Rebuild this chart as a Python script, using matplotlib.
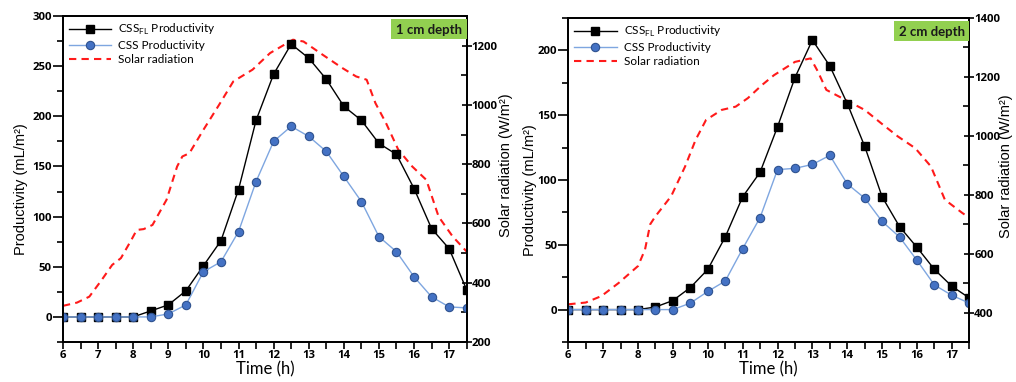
import numpy as np
import matplotlib
matplotlib.use("Agg")
import matplotlib.pyplot as plt
from matplotlib.patches import Rectangle
from matplotlib.ticker import MultipleLocator

plt.rcParams['font.family'] = ['Lato', 'DejaVu Sans']

# sampling times (h)
hours = [6, 6.5, 7, 7.5, 8, 8.5, 9, 9.5, 10, 10.5, 11, 11.5,
         12, 12.5, 13, 13.5, 14, 14.5, 15, 15.5, 16, 16.5, 17, 17.5]

# 1 cm depth: productivity (mL/m2)
fl_1cm = [0, 0, 0, 0, 0, 6, 12, 26, 51, 76, 127, 196,
          242, 272, 258, 237, 210, 196, 173, 162, 128, 88, 68, 27]
css_1cm = [0, 0, 0, 0, 0, 0, 3, 12, 45, 55, 85, 135,
           175, 190, 180, 165, 140, 115, 80, 65, 40, 20, 10, 9]
# 1 cm depth: solar radiation (W/m2)
sun_t_1cm = [6.0, 6.4, 6.75, 7.1, 7.4, 7.65, 7.95, 8.1, 8.3, 8.55, 8.95, 9.25,
             9.4, 9.6, 10.0, 10.45, 10.85, 11.4, 11.9, 12.55, 12.85, 13.4, 13.95,
             14.35, 14.65, 14.9, 15.2, 15.55, 15.95, 16.35, 16.7, 17.1, 17.5]
sun_1cm = [322, 333, 353, 409, 460, 483, 545, 578, 581, 595, 680, 792,
           826, 837, 916, 1001, 1079, 1119, 1175, 1220, 1214, 1169, 1125,
           1096, 1085, 1006, 939, 849, 792, 747, 623, 556, 505]

# 2 cm depth: productivity (mL/m2)
fl_2cm = [0, 0, 0, 0, 0, 2, 7, 17, 31, 56, 87, 106,
          141, 179, 208, 188, 159, 126, 87, 64, 48, 31, 18, 9]
css_2cm = [0, 0, 0, 0, 0, 0, 0, 5, 14, 22, 47, 71,
           108, 109, 112, 119, 97, 86, 68, 56, 38, 19, 11, 5]
# 2 cm depth: solar radiation (W/m2)
sun_t_2cm = [6.0, 6.5, 6.95, 7.45, 8.0, 8.2, 8.35, 8.5, 8.95, 9.35, 9.65, 9.95,
             10.4, 10.8, 11.15, 11.55, 11.9, 12.5, 12.95, 13.15, 13.4, 13.85,
             14.5, 15.0, 15.45, 15.95, 16.4, 16.8, 17.3, 17.5]
sun_2cm = [428, 434, 456, 501, 558, 614, 700, 727, 795, 896, 986, 1054,
           1088, 1099, 1128, 1172, 1206, 1251, 1263, 1220, 1156, 1128,
           1088, 1040, 998, 958, 896, 783, 738, 722]

W, H = 1016, 382
tick_font = {'family': 'Open Sans', 'weight': 'bold', 'size': 8.2}
label_font = {'family': 'Liberation Sans', 'size': 10.5}


def drawPanel(rect, fl, css, sun_t, sun, ylim, yticks, y2lim, y2ticks, tag,
              lab_x, lab2_x):
    ax = fig.add_axes(rect)
    ax2 = ax.twinx()
    ax.set_zorder(ax2.get_zorder() + 1)
    ax.patch.set_visible(False)

    # radiation on secondary axis
    l3, = ax2.plot(sun_t, sun, color='#ff1a1a', lw=1.5, ls=(0, (3.5, 2.5)),
                   label='Solar radiation')
    l1, = ax.plot(hours, fl, color='black', lw=1.0, marker='s', ms=6,
                  mfc='black', mec='black', label='CSS$_{\\mathregular{FL}}$ Productivity')
    l2, = ax.plot(hours, css, color='#7ea6e0', lw=1.0, marker='o', ms=6,
                  mfc='#4472c4', mec='#2f528f', mew=0.8, label='CSS Productivity')

    ax.set_xlim(6, 17.5)
    ax.set_ylim(*ylim)
    ax.set_yticks(yticks)
    ax.yaxis.set_minor_locator(MultipleLocator(25))
    ax.set_xticks(range(6, 18))
    ax.xaxis.set_minor_locator(MultipleLocator(0.5))
    ax2.set_ylim(*y2lim)
    ax2.set_yticks(y2ticks)
    ax2.yaxis.set_minor_locator(MultipleLocator(100))

    ax.tick_params(axis='y', which='major', direction='out', length=7, width=1.2, pad=1)
    ax.tick_params(axis='y', which='minor', direction='out', length=4, width=1.2)
    ax.tick_params(axis='x', which='both', direction='out', length=5, width=1.2, pad=1)
    ax2.tick_params(axis='y', which='major', direction='inout', length=7, width=1.2, pad=0)
    ax2.tick_params(axis='y', which='minor', direction='in', length=4, width=1.2)
    for lab in ax.get_xticklabels() + ax.get_yticklabels() + ax2.get_yticklabels():
        lab.set_fontproperties(tick_font)
    for a in (ax, ax2):
        for s in a.spines.values():
            s.set_linewidth(1.3)

    ax.set_xlabel('Time (h)', fontsize=12, labelpad=0)
    ax.set_ylabel('Productivity (mL/m²)', fontdict=label_font)
    ax2.set_ylabel('Solar radiation (W/m²)', fontdict=label_font)
    ax.yaxis.set_label_coords(lab_x, 0.47)
    ax2.yaxis.set_label_coords(lab2_x, 0.542)

    ax.legend(handles=[l1, l2, l3], loc='upper left', frameon=False, fontsize=8.5,
              handlelength=3.6, handletextpad=0.6, labelspacing=0.25,
              borderaxespad=0.2, borderpad=0.3)

    # depth label in green box at top right
    ax.add_patch(Rectangle((0.813, 0.928), 0.187, 0.064, transform=ax.transAxes,
                           facecolor='#92d050', edgecolor='none', zorder=5,
                           clip_on=False))
    ax.text(0.906, 0.958, tag, transform=ax.transAxes, ha='center', va='center',
            fontsize=9.5, fontweight='bold', color='#1a1a1a', zorder=6)
    return ax


fig = plt.figure(figsize=(W / 100, H / 100), dpi=100)

drawPanel([63 / W, 40 / H, 403.7 / W, 326 / H], fl_1cm, css_1cm, sun_t_1cm, sun_1cm,
          (-25, 300), range(0, 301, 50), (200, 1300), range(200, 1201, 200), '1 cm depth',
          -0.087, 1.080)
drawPanel([568.3 / W, 40 / H, 401 / W, 324 / H], fl_2cm, css_2cm, sun_t_2cm, sun_2cm,
          (-25, 225), range(0, 201, 50), (300, 1400), range(400, 1401, 200), '2 cm depth',
          -0.078, 1.0745)

fig.savefig('out.png', dpi=100)
